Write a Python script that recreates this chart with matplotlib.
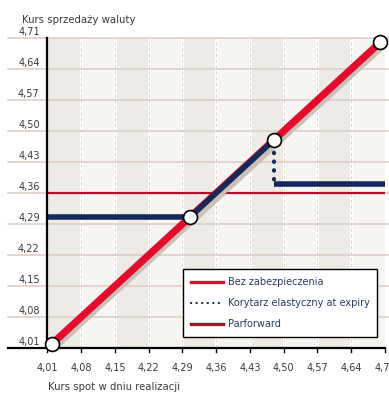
import matplotlib
matplotlib.use("Agg")
import matplotlib.pyplot as plt
import matplotlib.patheffects as pe
from matplotlib.lines import Line2D
from matplotlib.font_manager import fontManager

# data
ticks = [4.01, 4.08, 4.15, 4.22, 4.29, 4.36, 4.43, 4.50, 4.57, 4.64, 4.71]
tick_labels = ["4,01", "4,08", "4,15", "4,22", "4,29", "4,36", "4,43", "4,50", "4,57", "4,64", "4,71"]

spot_unhedged = [4.02, 4.70]
rate_unhedged = [4.02, 4.70]

corridor_floor_x = [4.01, 4.305]
corridor_floor_y = [4.305, 4.305]
corridor_rise_x = [4.305, 4.48]
corridor_rise_y = [4.305, 4.48]
corridor_drop_x = [4.48, 4.48]
corridor_drop_y = [4.47, 4.385]
corridor_tail_x = [4.48, 4.71]
corridor_tail_y = [4.38, 4.38]

parforward_x = [4.01, 4.71]
parforward_y = [4.36, 4.36]

knots_x = [4.02, 4.305, 4.48, 4.70]
knots_y = [4.02, 4.305, 4.48, 4.70]

names = ["Bez zabezpieczenia", "Korytarz elastyczny at expiry", "Parforward"]

RED = "#e30b2e"
NAVY = "#13295a"
DARKRED = "#b01024"
SHADOW = "#cbbfb8"
TXT = "#3a3a3a"

names_avail = {f.name for f in fontManager.ttflist}
fam = "Liberation Sans Narrow" if "Liberation Sans Narrow" in names_avail else "DejaVu Sans"
plt.rcParams["font.family"] = [fam, "DejaVu Sans"]

fig = plt.figure(figsize=(3.89, 3.94), dpi=100)
ax = fig.add_axes([47.5 / 389, 46 / 394, 337.5 / 389, 310 / 394])
ax.set_xlim(4.01, 4.71)
ax.set_ylim(4.01, 4.71)
for s in ax.spines.values():
    s.set_visible(False)
ax.set_xticks([])
ax.set_yticks([])

# alternating column bands
for i in range(len(ticks) - 1):
    c = "#eeeae5" if i % 2 == 0 else "#f7f5f2"
    ax.axvspan(ticks[i], ticks[i + 1], color=c, lw=0, zorder=0)
for t in ticks[1:-1]:
    ax.axvline(t, color="white", lw=2.2, zorder=0.5)
    ax.axvline(t, color="#d6d0cc", lw=0.7, ls=(0, (3, 3)), zorder=0.6)

# horizontal grid lines, running out to the labels
ytr = ax.get_yaxis_transform()
for t, lab in zip(ticks, tick_labels):
    if t > 4.01:
        ax.plot([-0.117, 1.012], [t, t], transform=ytr, color="#dbcbc5", lw=1.1,
                clip_on=False, zorder=0.7)
    ax.text(-0.055, t + 0.003, lab, transform=ytr, ha="center", va="bottom",
            fontsize=7, color=TXT)

# axes lines
ax.plot([-0.117, 1.0], [4.01, 4.01], transform=ytr, color="black", lw=1.6,
        clip_on=False, zorder=5)
ax.plot([4.01, 4.01], [4.01, 4.71], color="black", lw=1.6, clip_on=False, zorder=5)
xtr = ax.get_xaxis_transform()
for t, lab in zip(ticks, tick_labels):
    ax.plot([t, t], [0, -0.014], transform=xtr, color="black", lw=1, clip_on=False)
    ax.text(t, -0.065, lab, transform=xtr, ha="center", va="center",
            fontsize=7, color=TXT, clip_on=False)

shadow = [pe.SimpleLineShadow(offset=(1.8, -2.2), shadow_color=SHADOW, alpha=1), pe.Normal()]

ax.plot(spot_unhedged, rate_unhedged, color=RED, lw=5.2, solid_capstyle="butt",
        path_effects=shadow, zorder=2)
ax.plot(parforward_x, parforward_y, color=DARKRED, lw=1.6, zorder=2.5)
ax.plot(corridor_floor_x, corridor_floor_y, color=NAVY, lw=4.0, solid_capstyle="butt",
        zorder=3)
ax.plot(corridor_rise_x, corridor_rise_y, color=NAVY, lw=4.0, solid_capstyle="butt",
        path_effects=shadow, zorder=3)
ax.plot(corridor_drop_x, corridor_drop_y, color=NAVY, lw=3.0,
        ls=(0, (0.1, 2.0)), dash_capstyle="round", zorder=3)
ax.plot(corridor_tail_x, corridor_tail_y, color=NAVY, lw=4.0,
        solid_capstyle="butt", zorder=3)
ax.plot(knots_x, knots_y, ls="none", marker="o", ms=10, mfc="white", mec="black",
        mew=1.2, zorder=6, clip_on=False)

handles = [
    Line2D([], [], color=RED, lw=2.4),
    Line2D([], [], color=NAVY, lw=1.6, ls=(0, (0.1, 2.4)), dash_capstyle="round"),
    Line2D([], [], color=DARKRED, lw=2.4),
]
leg = ax.legend(handles, names, loc="lower left", bbox_to_anchor=(0.401, 0.035),
                frameon=True, fancybox=False, edgecolor="black", framealpha=1,
                fontsize=7, handlelength=3.3, handletextpad=0.5, labelspacing=1.15,
                borderpad=0.8, borderaxespad=0)
leg.get_frame().set_linewidth(1.0)
leg.set_zorder(7)
for txt in leg.get_texts():
    txt.set_color("#2e3b60")

fig.text(22 / 389, 1 - 20 / 394, "Kurs sprzedaży waluty", ha="left", va="center",
         fontsize=7.3, color=TXT)
fig.text(48 / 389, 1 - 387 / 394, "Kurs spot w dniu realizacji", ha="left", va="center",
         fontsize=7.3, color=TXT)

fig.savefig("out.png", dpi=100)
